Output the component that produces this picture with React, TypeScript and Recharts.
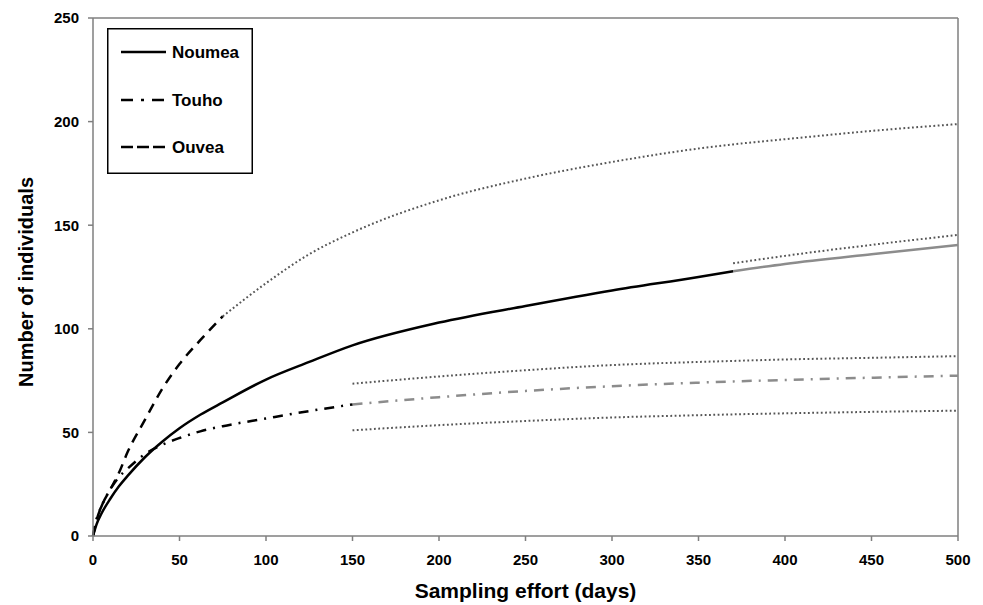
import { LineChart, Line, XAxis, YAxis, ReferenceLine, Label, Legend } from 'recharts';

// sampling effort (days) shared by every series; null = series not drawn there
const DAYS = [0, 2, 5, 10, 15, 20, 30, 40, 50, 62, 75, 100, 125, 150, 200, 250, 300, 350, 370, 400, 450, 500];
const X_TICKS = [0, 50, 100, 150, 200, 250, 300, 350, 400, 450, 500];
const Y_TICKS = [0, 50, 100, 150, 200, 250];

const NOUMEA = [0, 5.5, 11, 18, 24, 29, 38, 45.5, 52, 58.5, 64.5, 75.5, 84, 92, 103, 111, 118.5, 125, 127.8, null, null, null];
const NOUMEA_EXTRA = [null, null, null, null, null, null, null, null, null, null, null, null, null, null, null, null, null, null, 127.8, 131.3, 136, 140.4];
const NOUMEA_UPPER = [null, null, null, null, null, null, null, null, null, null, null, null, null, null, null, null, null, null, 131.6, 135.2, 140.5, 145.3];

const TOUHO = [0, 8, 14.5, 22.5, 28.5, 32.5, 39.5, 44, 47.3, 50.5, 53, 56.7, 60.3, 63.5, null, null, null, null, null, null, null, null];
const TOUHO_EXTRA = [null, null, null, null, null, null, null, null, null, null, null, null, null, 63.5, 67, 70, 72.3, 74, 74.6, 75.3, 76.4, 77.4];
const TOUHO_UPPER = [null, null, null, null, null, null, null, null, null, null, null, null, null, 73.5, 77, 80, 82.5, 84, 84.5, 85.2, 86, 86.8];
const TOUHO_LOWER = [null, null, null, null, null, null, null, null, null, null, null, null, null, 51, 53.5, 55.5, 57.2, 58.3, 58.7, 59.2, 59.9, 60.5];

const OUVEA = [0, 7.5, 14.5, 22.5, 30.5, 40.5, 56, 71, 83, 94.5, 106, null, null, null, null, null, null, null, null, null, null, null];
const OUVEA_EXTRA = [null, null, null, null, null, null, null, null, null, null, 106, 122, 136, 146.5, 162, 172.5, 180.5, 187, 189, 191.5, 195.5, 198.8];

const data = DAYS.map((d, i) => ({
  day: d,
  noumea: NOUMEA[i],
  noumeaExtra: NOUMEA_EXTRA[i],
  noumeaUpper: NOUMEA_UPPER[i],
  touho: TOUHO[i],
  touhoExtra: TOUHO_EXTRA[i],
  touhoUpper: TOUHO_UPPER[i],
  touhoLower: TOUHO_LOWER[i],
  ouvea: OUVEA[i],
  ouveaExtra: OUVEA_EXTRA[i],
}));

const FONT = '"Liberation Sans", Arial, sans-serif';
const AXIS = '#7f7f7f';
const GREY = '#8c8c8c';
const DOT = '#555555';
const DOTTED = '1.8 2.5';
const DASHDOT = '10 7 2 7';
const DASHED = '10 7';

function LegendBox() {
  const items = [
    { name: 'Noumea', y: 24, dash: undefined },
    { name: 'Touho', y: 72, dash: '12 8 3 8' },
    { name: 'Ouvea', y: 119, dash: '12 4' },
  ];
  return (
    <svg width={146} height={146} style={{ display: 'block' }}>
      <rect x={0.75} y={0.75} width={144.5} height={144.5} fill="#fff" stroke="#000" strokeWidth={1.5} />
      {items.map((it) => (
        <g key={it.name}>
          <line x1={14} x2={59} y1={it.y} y2={it.y} stroke="#000" strokeWidth={2.5} strokeDasharray={it.dash} />
          <text x={65} y={it.y} dominantBaseline="central" fontFamily={FONT} fontWeight="bold" fontSize={17} fill="#000">
            {it.name}
          </text>
        </g>
      ))}
    </svg>
  );
}

export default function App() {
  return (
    <div style={{ position: 'absolute', left: 0, top: 0, width: 983, height: 605, background: '#fff' }}>
      <LineChart width={983} height={605} data={data} margin={{ top: 18, right: 25, left: 0, bottom: 0 }}>
        <XAxis
          dataKey="day"
          type="number"
          domain={[0, 500]}
          ticks={X_TICKS}
          interval={0}
          stroke={AXIS}
          strokeWidth={1.5}
          tickSize={5}
          tickMargin={13}
          height={69}
          tick={{ fill: '#000', fontFamily: FONT, fontWeight: 'bold', fontSize: 15 }}
        >
          <Label value="Sampling effort (days)" position="insideBottom" offset={7} fill="#000" fontFamily={FONT} fontWeight="bold" fontSize={21} />
        </XAxis>
        <YAxis
          type="number"
          domain={[0, 250]}
          ticks={Y_TICKS}
          interval={0}
          width={93}
          stroke={AXIS}
          strokeWidth={1.5}
          tickSize={5}
          tickMargin={9}
          tick={{ fill: '#000', fontFamily: FONT, fontWeight: 'bold', fontSize: 15 }}
        >
          <Label value="Number of individuals" position="center" angle={-90} dx={-21} dy={5} fill="#000" fontFamily={FONT} fontWeight="bold" fontSize={20} />
        </YAxis>
        <ReferenceLine y={250} stroke={AXIS} strokeWidth={1.5} />
        <ReferenceLine x={500} stroke={AXIS} strokeWidth={1.5} />
        <Legend
          layout="vertical"
          align="center"
          verticalAlign="middle"
          content={() => <LegendBox />}
          wrapperStyle={{ left: 107, top: 28, width: 146, height: 146 }}
        />

        <Line dataKey="ouveaExtra" type="monotone" stroke={DOT} strokeWidth={2} strokeDasharray={DOTTED} dot={false} isAnimationActive={false} />
        <Line dataKey="noumeaUpper" type="monotone" stroke={DOT} strokeWidth={2} strokeDasharray={DOTTED} dot={false} isAnimationActive={false} />
        <Line dataKey="touhoUpper" type="monotone" stroke={DOT} strokeWidth={2} strokeDasharray={DOTTED} dot={false} isAnimationActive={false} />
        <Line dataKey="touhoLower" type="monotone" stroke={DOT} strokeWidth={2} strokeDasharray={DOTTED} dot={false} isAnimationActive={false} />

        <Line dataKey="noumeaExtra" type="monotone" stroke={GREY} strokeWidth={2.5} dot={false} isAnimationActive={false} />
        <Line dataKey="touhoExtra" type="monotone" stroke={GREY} strokeWidth={2.5} strokeDasharray={DASHDOT} dot={false} isAnimationActive={false} />

        <Line dataKey="ouvea" type="monotone" stroke="#000" strokeWidth={2.5} strokeDasharray={DASHED} dot={false} isAnimationActive={false} />
        <Line dataKey="touho" type="monotone" stroke="#000" strokeWidth={2.5} strokeDasharray={DASHDOT} dot={false} isAnimationActive={false} />
        <Line dataKey="noumea" type="monotone" stroke="#000" strokeWidth={2.5} dot={false} isAnimationActive={false} />
      </LineChart>
    </div>
  );
}
